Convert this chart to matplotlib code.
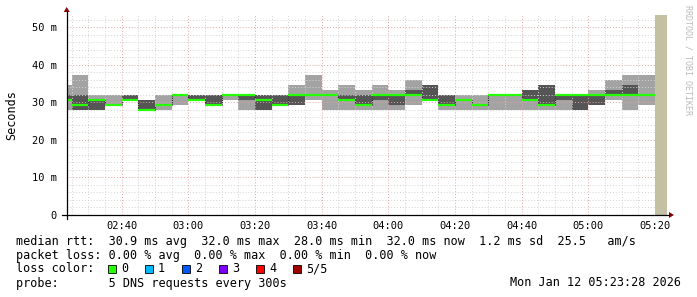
import matplotlib
matplotlib.use("Agg")
import matplotlib.pyplot as plt
import numpy as np
from matplotlib.lines import Line2D
from matplotlib.patches import Rectangle, Polygon

W, H = 697, 297
mono = "DejaVu Sans Mono"

# 5 minute steps, first one is cut by the left edge of the window
step_times = ["02:23:28", "02:25", "02:30", "02:35", "02:40", "02:45", "02:50", "02:55",
              "03:00", "03:05", "03:10", "03:15", "03:20", "03:25", "03:30", "03:35",
              "03:40", "03:45", "03:50", "03:55", "04:00", "04:05", "04:10", "04:15",
              "04:20", "04:25", "04:30", "04:35", "04:40", "04:45", "04:50", "04:55",
              "05:00", "05:05", "05:10", "05:15", "05:20"]
window_end = "05:23:28"

# sorted ping rtts (ms) of the 5 dns requests per step
ping1 = [28.0, 28.0, 28.0, 29.3, 30.7, 28.0, 28.0, 29.3, 30.7, 29.3, 30.7, 28.0, 28.0, 29.3,
         29.3, 30.7, 28.0, 28.0, 28.0, 28.0, 28.0, 29.3, 30.7, 28.0, 28.0, 28.0, 28.0, 28.0,
         28.0, 28.0, 28.0, 28.0, 29.3, 30.7, 28.0, 29.3]
ping2 = [30.7, 28.0, 28.0, 29.3, 30.7, 28.0, 29.3, 32.0, 30.7, 29.3, 32.0, 30.7, 28.0, 29.3,
         29.3, 32.0, 32.0, 30.7, 29.3, 30.7, 29.3, 32.0, 30.7, 29.3, 30.7, 29.3, 32.0, 32.0,
         30.7, 29.3, 30.7, 28.0, 29.3, 32.0, 32.0, 32.0]
median = [30.7, 29.3, 30.7, 29.3, 30.7, 28.0, 29.3, 32.0, 30.7, 29.3, 32.0, 32.0, 30.7, 29.3,
          32.0, 32.0, 32.0, 30.7, 29.3, 32.0, 32.0, 32.0, 30.7, 29.3, 30.7, 29.3, 32.0, 32.0,
          30.7, 29.3, 32.0, 32.0, 32.0, 32.0, 32.0, 32.0]
ping4 = [32.0, 32.0, 30.7, 29.3, 32.0, 30.7, 29.3, 32.0, 32.0, 32.0, 32.0, 32.0, 32.0, 32.0,
         32.0, 32.0, 32.0, 32.0, 32.0, 32.0, 32.0, 33.3, 34.7, 32.0, 30.7, 29.3, 32.0, 32.0,
         33.3, 34.7, 32.0, 32.0, 32.0, 33.3, 34.7, 32.0]
ping5 = [34.7, 37.3, 32.0, 32.0, 32.0, 30.7, 32.0, 32.0, 32.0, 32.0, 32.0, 32.0, 32.0, 32.0,
         34.7, 37.3, 33.3, 34.7, 33.3, 34.7, 33.3, 36.0, 34.7, 32.0, 32.0, 32.0, 32.0, 32.0,
         33.3, 34.7, 32.0, 32.0, 33.3, 36.0, 37.3, 37.3]

ytick_vals = [0, 10, 20, 30, 40, 50]
ytick_labels = ["0", "10 m", "20 m", "30 m", "40 m", "50 m"]
xtick_labels = ["02:40", "03:00", "03:20", "03:40", "04:00", "04:20", "04:40", "05:00", "05:20"]

loss_labels = ["0", "1", "2", "3", "4", "5/5"]
loss_colors = ["#26ff00", "#00b8ff", "#0059ff", "#7e00ff", "#ff0000", "#a10000"]

legend_lines = [
    "median rtt:  30.9 ms avg  32.0 ms max  28.0 ms min  32.0 ms now  1.2 ms sd  25.5   am/s",
    "packet loss: 0.00 % avg  0.00 % max  0.00 % min  0.00 % now",
    "loss color:",
    "probe:       5 DNS requests every 300s",
]
stamp = "Mon Jan 12 05:23:28 2026"


def to_min(s):
    parts = [int(p) for p in s.split(":")]
    while len(parts) < 3:
        parts.append(0)
    return parts[0] * 60 + parts[1] + parts[2] / 60.0


t = np.array([to_min(s) for s in step_times])
starts = t[:-1]
ends = t[1:]
widths = ends - starts
p1, p2, p3, p4, p5 = (np.array(a) for a in (ping1, ping2, median, ping4, ping5))
t_end = to_min(window_end)

fig = plt.figure(figsize=(W / 100, H / 100), dpi=100)
fig.patch.set_facecolor("white")
x0, y0, x1, y1 = 66.7, 215, 666.7, 15
ax = fig.add_axes([x0 / W, 1 - y0 / H, (x1 - x0) / W, (y0 - y1) / H])
ax.set_xlim(starts[0], t_end)
ax.set_ylim(0, 53.33)
for s in ax.spines.values():
    s.set_visible(False)

light = "#a3a3a3"
dark = "#555555"
ax.bar(starts, p2 - p1, bottom=p1, width=widths, align="edge", color=light, lw=0, zorder=1)
ax.bar(starts, p4 - p2, bottom=p2, width=widths, align="edge", color=dark, lw=0, zorder=1)
ax.bar(starts, p5 - p4, bottom=p4, width=widths, align="edge", color=light, lw=0, zorder=1)

# grid (drawn over the smoke, like rrdtool)
minor_y = [v for v in np.arange(2, 53, 2) if v % 10 != 0]
major_y = np.arange(10, 51, 10)
minor_x = [v for v in np.arange(145, t_end, 5) if v % 20 != 0]
major_x = np.arange(160, t_end, 20)
dots = (0, (1, 2))
ax.hlines(minor_y, starts[0], t_end, colors="#d2d2d2", lw=0.7, linestyles=dots, zorder=2)
ax.vlines(minor_x, 0, 53.33, colors="#d2d2d2", lw=0.7, linestyles=dots, zorder=2)
ax.hlines(major_y, starts[0], t_end, colors="#e2a3a3", lw=0.7, linestyles=dots, zorder=2)
ax.vlines(major_x, 0, 53.33, colors="#e2a3a3", lw=0.7, linestyles=dots, zorder=2)

# median line with dark vertical joins
ax.vlines(ends[:-1], np.minimum(p3[:-1], p3[1:]), np.maximum(p3[:-1], p3[1:]),
          colors="#222222", lw=0.8, linestyles=(0, (1, 1)), zorder=3)
ax.hlines(p3, starts, ends, colors="#26ff00", lw=1.6, zorder=4)

# not yet known part of the window
ax.axvspan(ends[-1], t_end, color="#c2c1a3", lw=0, zorder=5)

ax.set_yticks(ytick_vals)
ax.set_yticklabels(ytick_labels, family=mono, fontsize=7.5)
ax.set_xticks(major_x)
ax.set_xticklabels(xtick_labels, family=mono, fontsize=7.5)
ax.tick_params(axis="y", length=0, pad=7)
ax.tick_params(axis="x", length=0, pad=4)
ax.set_ylabel("Seconds", family=mono, fontsize=8.5, labelpad=10)


def fx(px):
    return px / W


def fy(py):
    return 1 - py / H


# axes with arrows
fig.add_artist(Line2D([fx(x0), fx(x0)], [fy(219), fy(11)], color="black", lw=0.9))
fig.add_artist(Line2D([fx(62), fx(669)], [fy(215), fy(215)], color="black", lw=0.9))
fig.add_artist(Polygon([[fx(x0 - 3), fy(12)], [fx(x0 + 3), fy(12)], [fx(x0), fy(7)]],
                       closed=True, color="#8b0000", lw=0))
fig.add_artist(Polygon([[fx(669), fy(212)], [fx(669), fy(218)], [fx(674), fy(215)]],
                       closed=True, color="#8b0000", lw=0))

fig.text(fx(688), fy(5), "RRDTOOL / TOBI OETIKER", rotation=270, ha="center", va="top",
         family=mono, fontsize=6, color="#bbbbbb")

rows = [241, 255, 269, 283]
for txt, row in zip(legend_lines, rows):
    fig.text(fx(16), fy(row), txt, family=mono, fontsize=8.5, va="center", ha="left")
fig.text(fx(681), fy(283), stamp, family=mono, fontsize=8.5, va="center", ha="right")

for i, (lab, col) in enumerate(zip(loss_labels, loss_colors)):
    bx = 108 + 37 * i
    fig.add_artist(Rectangle((fx(bx), fy(273)), 8 / W, 8 / H, facecolor=col,
                             edgecolor="black", lw=0.6))
    fig.text(fx(bx + 13), fy(269), lab, family=mono, fontsize=8.5, va="center", ha="left")

fig.savefig("out.png", dpi=100)
